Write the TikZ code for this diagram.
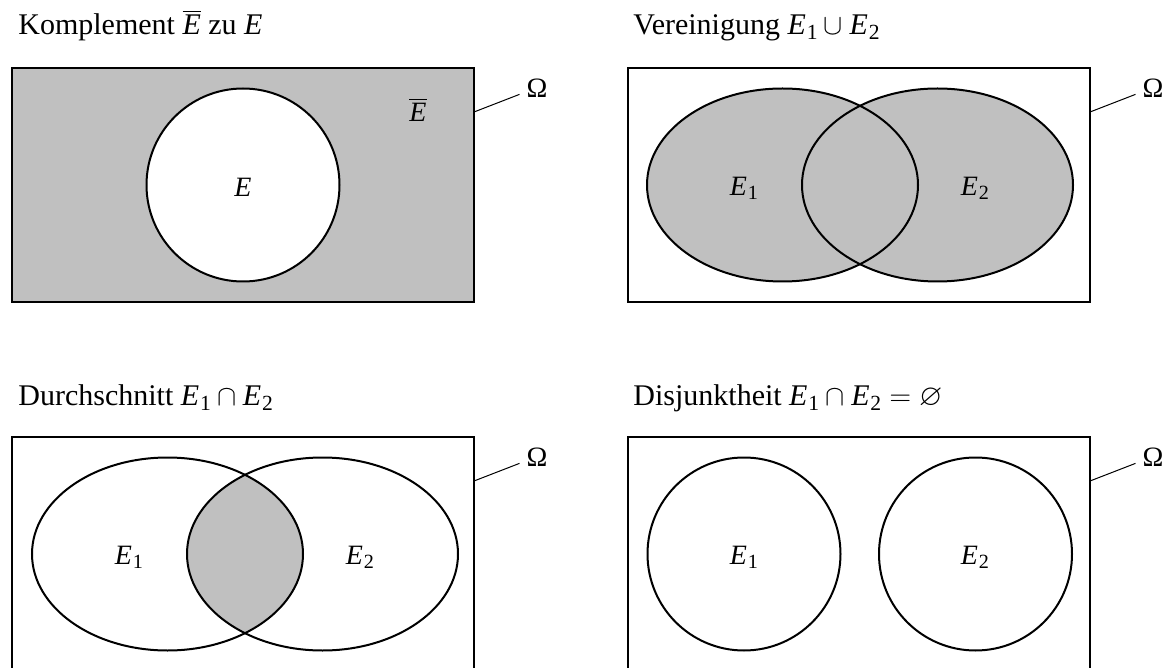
\documentclass[tikz,border=0pt]{standalone}
\usepackage{fontspec}
\setmainfont{Liberation Serif}
\usepackage{amssymb}
\usepackage{tikz}
\usetikzlibrary{positioning}

\definecolor{setgray}{RGB}{192,192,192}
\newcommand{\ev}[1]{\textit{E}\kern0.03em\raisebox{-0.3ex}{\scalebox{0.72}{#1}}}

\begin{document}
\begin{tikzpicture}[x=0.5pt, y=-0.5pt,
  frame/.style={draw, line width=1.2pt},
  setline/.style={draw, line width=1pt},
  lbl/.style={font=\fontsize{14}{16}\selectfont},
  title/.style={font=\fontsize{15}{18}\selectfont, anchor=base west, inner sep=0pt},
  leader/.style={line width=0.5pt}]
\useasboundingbox (0,0) rectangle (1168,668);

% titles
\node[title] (tA) at (18,35) {Komplement $\overline{\mbox{\itshape E}}$ zu \textit{E}};
\node[title] (tB) at (633,35) {Vereinigung \ev{1}${}\cup{}$\ev{2}};
\node[title] (tC) at (18,406) {Durchschnitt \ev{1}${}\cap{}$\ev{2}};
\node[title] (tD) at (633,406) {Disjunktheit \ev{1}${}\cap{}$\ev{2}${}={}\varnothing$};

% complement: grey sample space
\fill[setgray] (12,68) rectangle (474,302);

% sample space frames with Omega
\foreach \p/\dx/\dy in {A/0/0, B/616/0, C/0/369, D/616/369} {
  \draw[frame] (12+\dx,68+\dy) rectangle ++(462,234);
  \coordinate (l\p) at (474+\dx,112+\dy);
  \node[lbl] (om\p) at (537+\dx,88+\dy) {Ω};
  \draw[leader] (l\p) -- (om\p.200);
}

% complement
\draw[setline, fill=white] (243,185) circle[radius=96.5];
\node[lbl] (eA) at (243,187) {\textit{E}};
\node[lbl] (ebA) at (418,110) {$\overline{\mbox{\itshape E}}$};

% union
\fill[setgray] (782.5,185) ellipse[x radius=135.5, y radius=96.5];
\fill[setgray] (937.5,185) ellipse[x radius=135.5, y radius=96.5];
\draw[setline] (782.5,185) ellipse[x radius=135.5, y radius=96.5];
\draw[setline] (937.5,185) ellipse[x radius=135.5, y radius=96.5];
\node[lbl] (e1B) at (744,188) {\ev{1}};
\node[lbl] (e2B) at (975,188) {\ev{2}};

% intersection
\begin{scope}
  \clip (167.5,554) ellipse[x radius=135.5, y radius=96.5];
  \fill[setgray] (322.5,554) ellipse[x radius=135.5, y radius=96.5];
\end{scope}
\draw[setline] (167.5,554) ellipse[x radius=135.5, y radius=96.5];
\draw[setline] (322.5,554) ellipse[x radius=135.5, y radius=96.5];
\node[lbl] (e1C) at (129,557) {\ev{1}};
\node[lbl] (e2C) at (360,557) {\ev{2}};

% disjoint
\draw[setline] (744,554) circle[radius=96.5];
\draw[setline] (975.5,554) circle[radius=96.5];
\node[lbl] (e1D) at (744,557) {\ev{1}};
\node[lbl] (e2D) at (975,557) {\ev{2}};
\end{tikzpicture}
\end{document}
